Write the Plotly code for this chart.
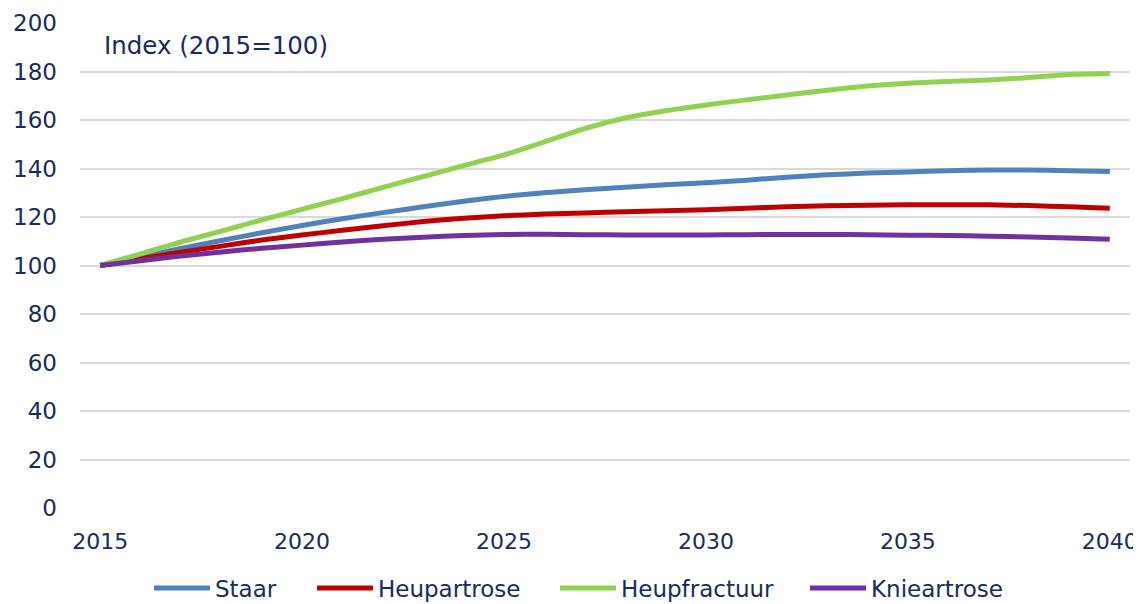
import plotly.graph_objects as go

years = list(range(2015, 2041))

staar = [100, 103.5, 107, 110.3, 113.5, 116.5, 119.3, 121.8, 124.2, 126.5, 128.5,
         130, 131.2, 132.3, 133.3, 134.1, 135.2, 136.4, 137.4, 138.1, 138.6,
         139.1, 139.4, 139.4, 139.1, 138.8]
heupartrose = [100, 102.8, 105.5, 108, 110.5, 112.6, 114.5, 116.4, 118.1, 119.5, 120.5,
               121.2, 121.7, 122.2, 122.6, 123, 123.6, 124.2, 124.6, 124.8, 125,
               125.1, 125, 124.7, 124.2, 123.6]
heupfractuur = [100, 104.8, 109.7, 114.2, 118.8, 123.2, 127.6, 132.2, 136.7, 141.2, 145.6,
                151, 156.5, 160.8, 163.8, 166.2, 168.3, 170.3, 172.3, 174, 175.2,
                175.9, 176.5, 177.5, 178.8, 179.2]
knieartrose = [100, 102, 103.9, 105.6, 107.1, 108.4, 109.7, 110.8, 111.6, 112.4, 112.8,
               112.9, 112.7, 112.6, 112.6, 112.6, 112.7, 112.8, 112.8, 112.7, 112.5,
               112.4, 112.1, 111.8, 111.3, 110.8]

series_names = ["Staar", "Heupartrose", "Heupfractuur", "Knieartrose"]
series_values = [staar, heupartrose, heupfractuur, knieartrose]
series_colors = ["#4F81BD", "#C00000", "#92D050", "#7030A0"]
legend_widths = [92, 172, 179, None]

x_ticks = [2015, 2020, 2025, 2030, 2035, 2040]
y_ticks = list(range(0, 201, 20))

TEXT = "#172B5E"
FONT = "Verdana, DejaVu Sans, sans-serif"
FS = 23

fig = go.Figure()
for name, vals, col, lw in zip(series_names, series_values, series_colors, legend_widths):
    tr = go.Scatter(
        x=years, y=vals, name=name, mode="lines",
        line=dict(color=col, width=5, shape="spline", smoothing=0.6),
    )
    if lw is not None:
        tr.legendwidth = lw
    fig.add_trace(tr)

fig.update_layout(
    width=1133, height=596,
    margin=dict(l=72, r=11, t=15, b=96, autoexpand=False),
    paper_bgcolor="white", plot_bgcolor="white",
    font=dict(family=FONT, size=FS, color=TEXT),
    showlegend=True,
    legend=dict(orientation="h", x=0.0657, xanchor="left", y=-0.165, yanchor="middle",
                font=dict(family=FONT, size=FS, color=TEXT),
                itemwidth=56, traceorder="normal", bgcolor="rgba(0,0,0,0)"),
    xaxis=dict(range=[2014.5, 2040.5], tickvals=x_ticks, showgrid=False,
               zeroline=False, showline=False, ticks="", automargin=False,
               ticklabelstandoff=18,
               tickfont=dict(family=FONT, size=22, color=TEXT)),
    yaxis=dict(range=[0, 200], tickvals=y_ticks, showgrid=True, gridcolor="#D9D9D9",
               gridwidth=2, zeroline=False, showline=False, ticks="", automargin=False,
               ticklabelstandoff=22,
               tickfont=dict(family=FONT, size=FS, color=TEXT)),
    annotations=[dict(text="Index (2015=100)", xref="paper", yref="paper",
                      x=0.021, y=0.9526, xanchor="left", yanchor="middle",
                      showarrow=False, font=dict(family=FONT, size=24.5, color=TEXT))],
)

fig.write_html("out.html")
